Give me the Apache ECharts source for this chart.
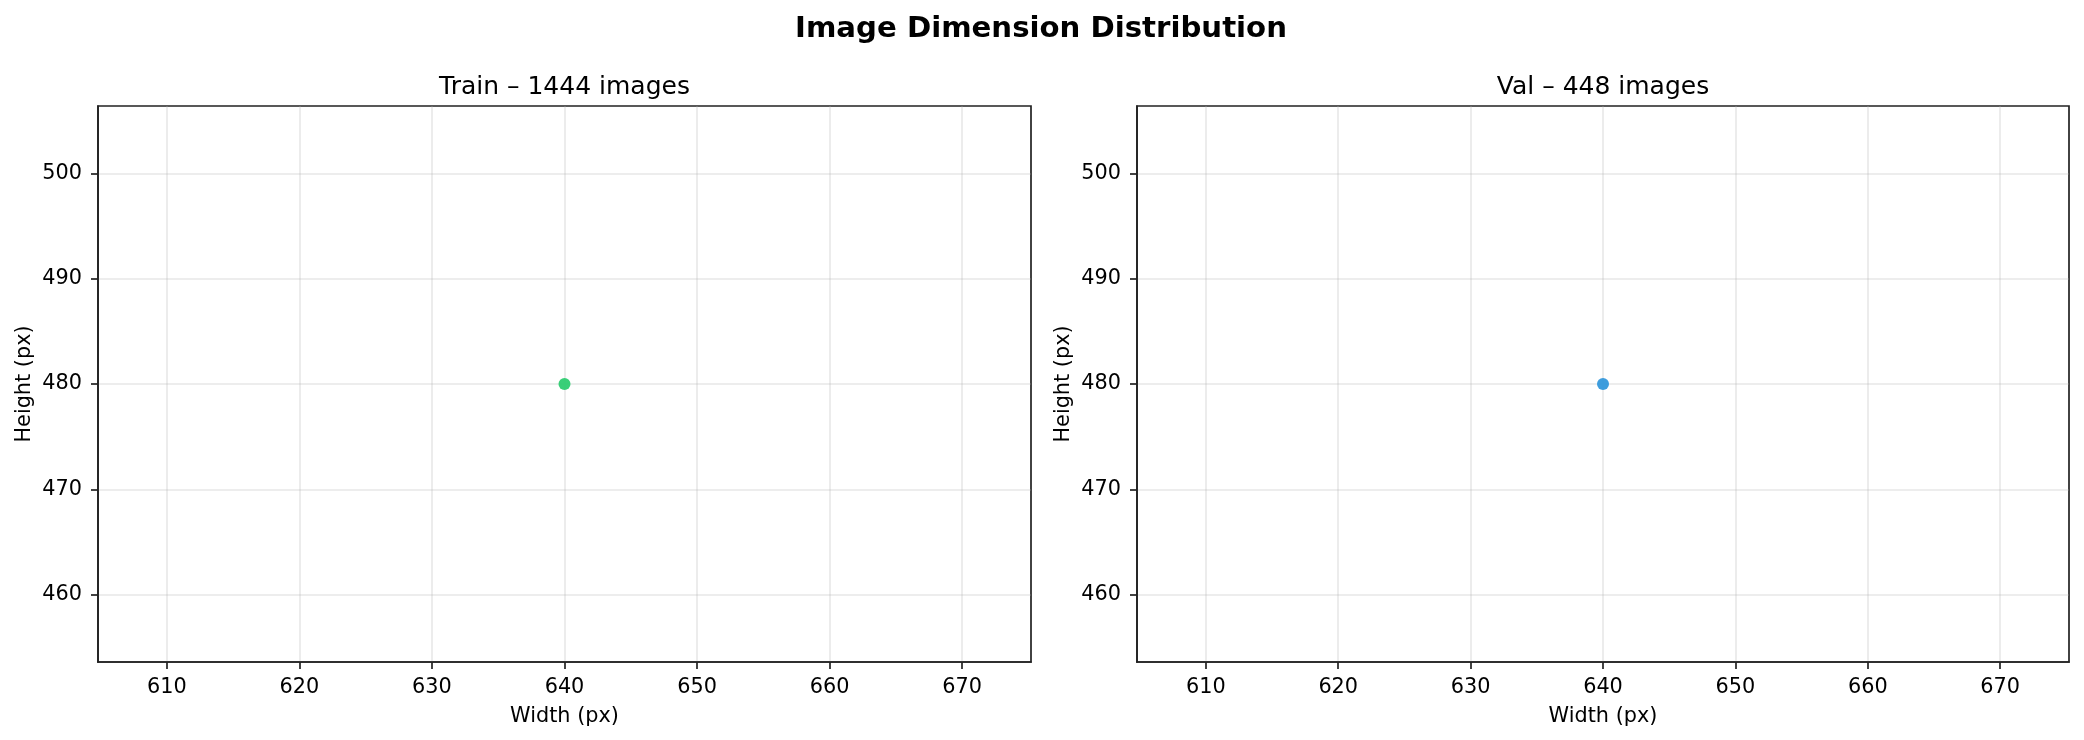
<!DOCTYPE html>
<html>
<head>
<meta charset="utf-8">
<script src="https://cdn.jsdelivr.net/npm/echarts@6/dist/echarts.min.js"></script>
<style>
  html, body { margin: 0; padding: 0; background: #fff; }
  #chart { width: 2084px; height: 740px; }
</style>
</head>
<body>
<div id="chart"></div>
<script>
// ---- data ----
const trainWidths = [640];
const trainHeights = [480];
const valWidths = [640];
const valHeights = [480];
const trainCount = 1444;
const valCount = 448;
const xTickValues = [610, 620, 630, 640, 650, 660, 670];
const yTickValues = [460, 470, 480, 490, 500];
const xRange = [604.8, 675.2];
const yRange = [453.6, 506.4];

const FONT = 'DejaVu Sans';
const trainPoints = trainWidths.map((w, i) => [w, trainHeights[i]]);
const valPoints = valWidths.map((w, i) => [w, valHeights[i]]);

function xAxisCfg(gridIndex) {
  return {
    type: 'value', gridIndex, min: xRange[0], max: xRange[1],
    name: 'Width (px)', nameLocation: 'middle', nameGap: 44,
    nameTextStyle: { fontFamily: FONT, fontSize: 20.8, color: '#000' },
    axisLine: { show: true, onZero: false, lineStyle: { color: '#222', width: 1.7 } },
    axisTick: { show: true, length: 7, customValues: xTickValues, lineStyle: { color: '#222', width: 1.7 } },
    axisLabel: { customValues: xTickValues, margin: 15.5, fontFamily: FONT, fontSize: 20.8, color: '#000' },
    splitLine: { show: true, lineStyle: { color: '#b0b0b0', opacity: 0.3, width: 1.6 } }
  };
}
function yAxisCfg(gridIndex) {
  return {
    type: 'value', gridIndex, min: yRange[0], max: yRange[1],
    name: 'Height (px)', nameLocation: 'middle', nameGap: 63,
    nameTextStyle: { fontFamily: FONT, fontSize: 20.8, color: '#000' },
    axisLine: { show: true, onZero: false, lineStyle: { color: '#222', width: 1.7 } },
    axisTick: { show: true, length: 7, customValues: yTickValues, lineStyle: { color: '#222', width: 1.7 } },
    axisLabel: { customValues: yTickValues, margin: 16, fontFamily: FONT, fontSize: 20.8, color: '#000' },
    splitLine: { show: true, lineStyle: { color: '#b0b0b0', opacity: 0.3, width: 1.6 } }
  };
}

const chart = echarts.init(document.getElementById('chart'), null, { renderer: 'canvas' });
chart.setOption({
  backgroundColor: '#fff',
  animation: false,
  title: [
    { text: 'Image Dimension Distribution', left: 1041, top: 15, textAlign: 'center', padding: 0,
      textStyle: { fontFamily: FONT, fontSize: 29.2, fontWeight: 'bold', color: '#000' } },
    { text: 'Train \u2013 ' + trainCount + ' images', left: 564.5, top: 75, textAlign: 'center', padding: 0,
      textStyle: { fontFamily: FONT, fontSize: 25, fontWeight: 'normal', color: '#000' } },
    { text: 'Val \u2013 ' + valCount + ' images', left: 1603, top: 75, textAlign: 'center', padding: 0,
      textStyle: { fontFamily: FONT, fontSize: 25, fontWeight: 'normal', color: '#000' } }
  ],
  grid: [
    { left: 98, top: 106, width: 933, height: 556, show: true, borderColor: '#222', borderWidth: 1.7, backgroundColor: 'transparent' },
    { left: 1137, top: 106, width: 932, height: 556, show: true, borderColor: '#222', borderWidth: 1.7, backgroundColor: 'transparent' }
  ],
  xAxis: [xAxisCfg(0), xAxisCfg(1)],
  yAxis: [yAxisCfg(0), yAxisCfg(1)],
  series: [
    { type: 'scatter', xAxisIndex: 0, yAxisIndex: 0, data: trainPoints, symbolSize: 12,
      itemStyle: { color: '#2ecc71', opacity: 0.95 } },
    { type: 'scatter', xAxisIndex: 1, yAxisIndex: 1, data: valPoints, symbolSize: 12,
      itemStyle: { color: '#3498db', opacity: 0.95 } }
  ]
});
</script>
</body>
</html>
